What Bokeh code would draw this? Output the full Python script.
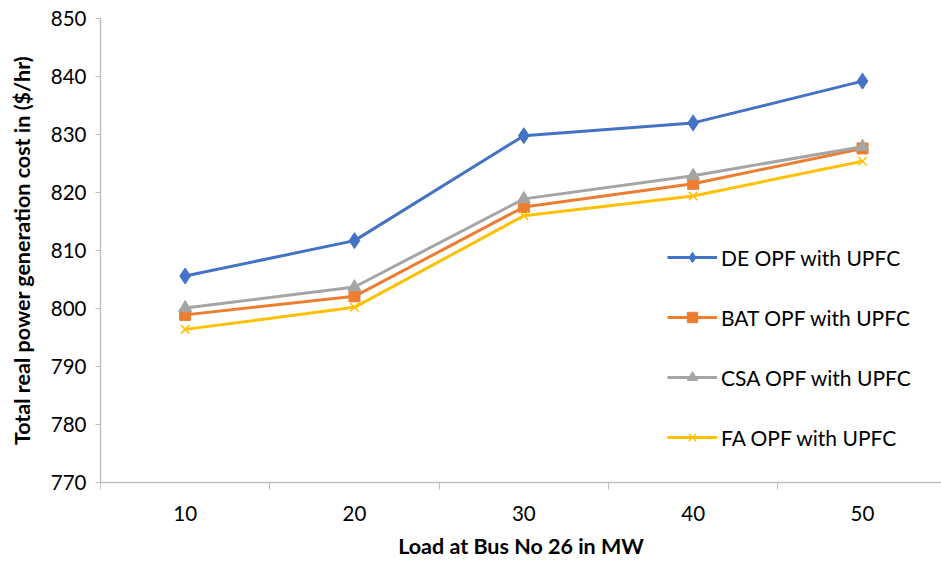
from bokeh.plotting import figure
from bokeh.models import FixedTicker, Legend, LegendItem, Range1d
from bokeh.embed import file_html
from bokeh.resources import INLINE

# Load at bus 26 (MW) and total generation cost ($/hr) for each method
loads = [10, 20, 30, 40, 50]
de_cost = [805.6, 811.7, 829.8, 832.0, 839.2]
bat_cost = [798.9, 802.1, 817.5, 821.5, 827.6]
csa_cost = [800.1, 803.7, 818.9, 822.9, 827.9]
fa_cost = [796.4, 800.2, 816.0, 819.4, 825.4]

y_ticks = [770, 780, 790, 800, 810, 820, 830, 840, 850]

FONT = "Lato"
AXIS_GREY = "#BFBFBF"

# category slots 1..5 on a numeric axis
xs = [i + 1 for i in range(len(loads))]

p = figure(
    width=941, height=562,
    frame_width=841, frame_height=464,
    output_backend="svg", toolbar_location=None,
    x_range=Range1d(0.5, 0.5 + 841 / 169.33),
    y_range=Range1d(770, 850),
    min_border_left=100, min_border_right=0,
    min_border_top=18, min_border_bottom=80,
)
p.outline_line_color = None
p.xgrid.visible = False
p.ygrid.visible = False
p.background_fill_color = "white"
p.border_fill_color = "white"

series = [
    ("DE OPF with UPFC", de_cost, "#4472C4", "diamond", 16),
    ("BAT OPF with UPFC", bat_cost, "#ED7D31", "square", 11),
    ("CSA OPF with UPFC", csa_cost, "#A5A5A5", "triangle", 13),
    ("FA OPF with UPFC", fa_cost, "#FFC000", "x", 12),
]

items = []
for label, vals, color, marker, size in series:
    ln = p.line(xs, vals, line_color=color, line_width=3, line_join="round")
    if marker == "x":
        mk = p.scatter(xs, vals, marker=marker, size=size, line_color=color,
                       line_width=1.5)
    else:
        mk = p.scatter(xs, vals, marker=marker, size=size, fill_color=color,
                       line_color=color)
    items.append(LegendItem(label=label, renderers=[ln, mk]))

legend = Legend(
    items=items,
    location=(567, 32),
    orientation="vertical",
    glyph_width=50, glyph_height=26,
    label_height=26, spacing=34,
    padding=0, margin=0,
    label_standoff=4,
    label_text_font=FONT, label_text_font_size="21px",
    label_text_color="#000000",
    background_fill_alpha=0, border_line_color=None,
)
p.add_layout(legend, "center")

# x axis: labels at category centres, tick marks between categories
xa = p.xaxis[0]
xa.ticker = FixedTicker(ticks=xs, minor_ticks=[x - 0.5 for x in xs] + [xs[-1] + 0.5])
xa.major_label_overrides = {x: str(v) for x, v in zip(xs, loads)}
xa.major_tick_out = 0
xa.major_tick_in = 0
xa.minor_tick_out = 7
xa.minor_tick_in = 0
xa.minor_tick_line_color = AXIS_GREY
xa.axis_line_color = AXIS_GREY
xa.axis_line_width = 1.5
xa.major_label_standoff = 16
xa.major_label_text_font = FONT
xa.major_label_text_font_size = "20.5px"
xa.major_label_text_color = "#000000"
xa.axis_label = "Load at Bus No 26 in MW"
xa.axis_label_text_font = FONT
xa.axis_label_text_font_style = "bold"
xa.axis_label_text_font_size = "21.5px"
xa.axis_label_text_color = "#000000"
xa.axis_label_standoff = 9

ya = p.yaxis[0]
ya.ticker = FixedTicker(ticks=y_ticks, minor_ticks=[])
ya.major_tick_out = 5
ya.major_tick_in = 0
ya.major_tick_line_color = AXIS_GREY
ya.axis_line_color = AXIS_GREY
ya.axis_line_width = 1.5
ya.major_label_standoff = 9
ya.major_label_text_font = FONT
ya.major_label_text_font_size = "20.5px"
ya.major_label_text_color = "#000000"
ya.axis_label = "Total real power generation cost in ($/hr)"
ya.axis_label_text_font = FONT
ya.axis_label_text_font_style = "bold"
ya.axis_label_text_font_size = "21.5px"
ya.axis_label_text_color = "#000000"
ya.axis_label_standoff = 13

open("out.html", "w").write(file_html(p, INLINE))
